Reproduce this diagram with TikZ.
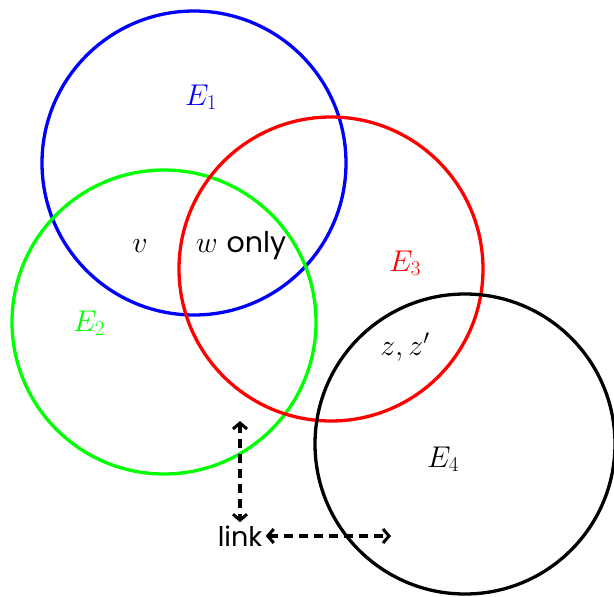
\RequirePackage{fix-cm}
\documentclass[tikz,border=0pt]{standalone}
\usepackage{fontspec}
\setsansfont{Poppins}
\usetikzlibrary{arrows.meta}
\begin{document}
\begin{tikzpicture}[x=1pt,y=-1pt,
  setc/.style={line width=3.3pt},
  lab/.style={font=\fontsize{30}{34}\selectfont},
  sanslab/.style={font=\fontsize{27}{32}\selectfont\sffamily},
  linkarrow/.style={line width=3.8pt,dash pattern=on 9pt off 6pt,{Straight Barb[length=6pt,width=14pt,line width=3pt]}-{Straight Barb[length=6pt,width=14pt,line width=3pt]}}]
\useasboundingbox (0,0) rectangle (614,597);
\draw[setc,blue] (194,163) circle (152);
\draw[setc,green] (164,322) circle (152);
\draw[setc,red] (331,269) circle (152);
\draw[setc,black] (465,444) circle (150);
\node[lab,text=blue] (e1) at (201,97) {$E_1$};
\node[lab,text=green] (e2) at (89,323) {$E_2$};
\node[lab,text=red] (e3) at (405,263) {$E_3$};
\node[lab] (e4) at (443,459) {$E_4$};
\node[lab] (v) at (140,246) {$v$};
\node[lab] (w) at (241,246) {$w$ \sffamily\fontsize{28.5}{32}\selectfont only};
\node[lab] (z) at (405,347) {$z,z'$};
\node[sanslab] (link) at (240,536) {link};
\coordinate (top) at (240,421);
\coordinate (right) at (391,536);
\draw[linkarrow] (top) -- (link.north);
\draw[linkarrow] (link.east) -- (right);
\end{tikzpicture}
\end{document}
